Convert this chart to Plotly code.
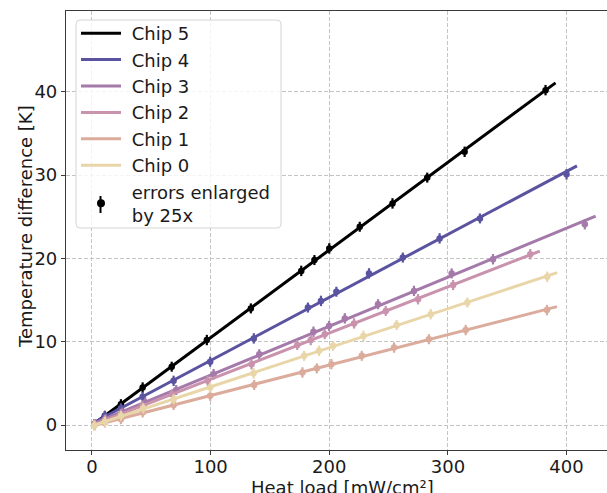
import numpy as np
import plotly.graph_objects as go

# ---------------- data ----------------
chip_names = ["Chip 5", "Chip 4", "Chip 3", "Chip 2", "Chip 1", "Chip 0"]
chip_colors = ["#000000", "#5a53a0", "#a57aaa", "#c992ad", "#dbab9c", "#e9d6a8"]

x_chip5 = [2, 10.9, 24.4, 42.7, 67.2, 96.8, 133.9, 176.4, 187.5, 200.0, 225.7, 253.3, 282.6, 314.1, 382.3]
y_chip5 = [0.1, 1.1, 2.5, 4.5, 7.0, 10.2, 14.0, 18.5, 19.8, 21.2, 23.8, 26.6, 29.7, 32.8, 40.2]
e_chip5 = [0.024, 0.024, 0.024, 0.025, 0.024, 0.025, 0.024, 0.025, 0.024, 0.025, 0.024, 0.025, 0.024, 0.025, 0.025]

x_chip4 = [2, 10.9, 24.4, 42.7, 68.8, 99.6, 136.4, 182.0, 193.0, 206.0, 233.5, 262.0, 293.0, 327.0, 400.0]
y_chip4 = [0.1, 1.1, 2.0, 3.4, 5.3, 7.6, 10.4, 14.1, 14.9, 16.0, 18.2, 20.1, 22.4, 24.8, 30.1]
e_chip4 = [0.024, 0.024, 0.024, 0.024, 0.025, 0.024, 0.025, 0.024, 0.025, 0.024, 0.025, 0.024, 0.025, 0.024, 0.025]

x_chip3 = [2, 11.5, 25.5, 45.0, 71.0, 102.5, 141.0, 186.7, 199.8, 213.1, 241.1, 271.4, 303.2, 338.0, 415.4]
y_chip3 = [0.1, 0.7, 1.5, 2.7, 4.2, 6.1, 8.5, 11.2, 11.9, 12.8, 14.5, 16.1, 18.2, 19.9, 24.1]
e_chip3 = [0.024, 0.024, 0.024, 0.024, 0.024, 0.025, 0.024, 0.025, 0.024, 0.025, 0.024, 0.025, 0.024, 0.025, 0.025]

x_chip2 = [2, 10.8, 24.2, 42.3, 67.5, 97.5, 134.5, 173.0, 184.4, 196.2, 220.9, 247.6, 274.8, 304.4, 369.4]
y_chip2 = [0.1, 0.6, 1.3, 2.3, 3.7, 5.3, 7.3, 9.6, 10.2, 10.9, 12.2, 13.7, 15.1, 16.8, 20.5]
e_chip2 = [0.024, 0.024, 0.024, 0.024, 0.024, 0.024, 0.025, 0.024, 0.025, 0.024, 0.025, 0.024, 0.025, 0.024, 0.025]

x_chip1 = [2, 10.9, 24.4, 42.7, 68.8, 99.6, 136.7, 177.4, 189.5, 201.8, 227.4, 254.6, 284.0, 315.0, 383.5]
y_chip1 = [0.0, 0.3, 0.7, 1.5, 2.4, 3.5, 4.8, 6.3, 6.8, 7.3, 8.3, 9.3, 10.3, 11.4, 13.8]
e_chip1 = [0.024, 0.024, 0.024, 0.024, 0.024, 0.024, 0.024, 0.025, 0.024, 0.025, 0.024, 0.025, 0.024, 0.025, 0.025]

x_chip0 = [2, 10.9, 24.4, 43.2, 68.8, 99.6, 136.2, 178.8, 191.4, 203.2, 228.8, 256.8, 285.5, 316.4, 383.7]
y_chip0 = [-0.1, 0.4, 1.1, 2.0, 3.1, 4.5, 6.2, 8.3, 8.9, 9.5, 10.7, 12.0, 13.3, 14.7, 17.8]
e_chip0 = [0.024, 0.024, 0.024, 0.024, 0.024, 0.024, 0.025, 0.024, 0.025, 0.024, 0.025, 0.024, 0.025, 0.024, 0.025]

error_scale = 25
x_ticks = [0, 100, 200, 300, 400]
y_ticks = [0, 10, 20, 30, 40]

chips = [
    (x_chip5, y_chip5, e_chip5),
    (x_chip4, y_chip4, e_chip4),
    (x_chip3, y_chip3, e_chip3),
    (x_chip2, y_chip2, e_chip2),
    (x_chip1, y_chip1, e_chip1),
    (x_chip0, y_chip0, e_chip0),
]

FONT = "DejaVu Sans"
FS = 18
TXT = "#1a1a1a"
NB = "\u00a0"

# figure / plot-area geometry in pixels
W, H = 607, 493
ML, MR, MT, MB = 66, 0, 11, 43
PW, PH = W - ML - MR, H - MT - MB


def px_x(p):
    return (p - ML) / PW


def px_y(p):
    return (H - MB - p) / PH


fig = go.Figure()

for i, (name, color, (xs, ys, es)) in enumerate(zip(chip_names, chip_colors, chips)):
    xs = np.asarray(xs, float)
    ys = np.asarray(ys, float)
    slope, icpt = np.polyfit(xs, ys, 1)
    xf = np.array([0.0, xs.max() * 1.022])
    yf = slope * xf + icpt
    grp = f"g{i}"
    fig.add_trace(go.Scatter(
        x=xf, y=yf, mode="lines", name=NB + name, legendgroup=grp,
        line=dict(color=color, width=3), showlegend=True,
    ))
    fig.add_trace(go.Scatter(
        x=xs, y=ys, mode="markers", name=name, legendgroup=grp, showlegend=False,
        marker=dict(color=color, size=6.5, symbol="circle"),
        error_y=dict(type="data", array=np.asarray(es) * error_scale,
                     color=color, thickness=2.2, width=0),
    ))

# legend-only entry for the error bars
fig.add_trace(go.Scatter(
    x=[None], y=[None], mode="markers", name=NB + "errors enlarged<br>" + NB + "by 25x",
    legendgroup="gerr",
    marker=dict(color="black", size=8, symbol="circle"),
))

axis_common = dict(
    showline=True, linecolor="#3a3a3a", linewidth=1.2,
    ticks="outside", ticklen=4, tickwidth=1.2, tickcolor="#3a3a3a",
    showgrid=True, gridcolor="#c4c4c4", gridwidth=1, griddash="4px,2px",
    zeroline=False,
    tickfont=dict(family=FONT, size=FS, color=TXT),
)

# legend frame (rounded, semi-transparent) drawn as a shape
lx0, lx1, ly0, ly1, r = 76, 281, 20, 228, 4
X = px_x
Y = px_y
frame_path = (
    f"M {X(lx0 + r)},{Y(ly0)} L {X(lx1 - r)},{Y(ly0)} Q {X(lx1)},{Y(ly0)} {X(lx1)},{Y(ly0 + r)} "
    f"L {X(lx1)},{Y(ly1 - r)} Q {X(lx1)},{Y(ly1)} {X(lx1 - r)},{Y(ly1)} "
    f"L {X(lx0 + r)},{Y(ly1)} Q {X(lx0)},{Y(ly1)} {X(lx0)},{Y(ly1 - r)} "
    f"L {X(lx0)},{Y(ly0 + r)} Q {X(lx0)},{Y(ly0)} {X(lx0 + r)},{Y(ly0)} Z"
)

fig.update_layout(
    width=W, height=H,
    margin=dict(l=ML, r=MR, t=MT, b=MB),
    paper_bgcolor="white", plot_bgcolor="white",
    font=dict(family=FONT, size=FS, color=TXT),
    xaxis=dict(range=[-21.9, 434.1], tickvals=x_ticks, mirror=True,
               ticklabelstandoff=-4, **axis_common),
    yaxis=dict(range=[-3.0, 49.7], tickvals=y_ticks, mirror=False, **axis_common),
    legend=dict(
        x=px_x(76), y=px_y(15), xanchor="left", yanchor="top",
        bgcolor="rgba(0,0,0,0)", borderwidth=0,
        font=dict(family=FONT, size=FS, color=TXT),
        traceorder="grouped", tracegroupgap=0, itemwidth=40,
    ),
    shapes=[
        dict(type="path", xref="paper", yref="paper", path=frame_path,
             fillcolor="rgba(255,255,255,0.82)", line=dict(color="#d4d4d4", width=1),
             layer="above"),
        dict(type="line", xref="paper", yref="paper",
             x0=px_x(100.5), x1=px_x(100.5), y0=px_y(196), y1=px_y(213),
             line=dict(color="black", width=2), layer="above"),
    ],
    annotations=[
        dict(text="Heat load [mW/cm²]", xref="paper", yref="paper",
             x=px_x(342), y=px_y(487), xanchor="center", yanchor="middle", showarrow=False,
             font=dict(family=FONT, size=FS, color=TXT)),
        dict(text="Temperature difference [K]", xref="paper", yref="paper",
             x=px_x(26), y=px_y(227), xanchor="center", yanchor="middle", showarrow=False,
             textangle=-90, font=dict(family=FONT, size=FS, color=TXT)),
    ],
)

fig.write_html("out.html")
